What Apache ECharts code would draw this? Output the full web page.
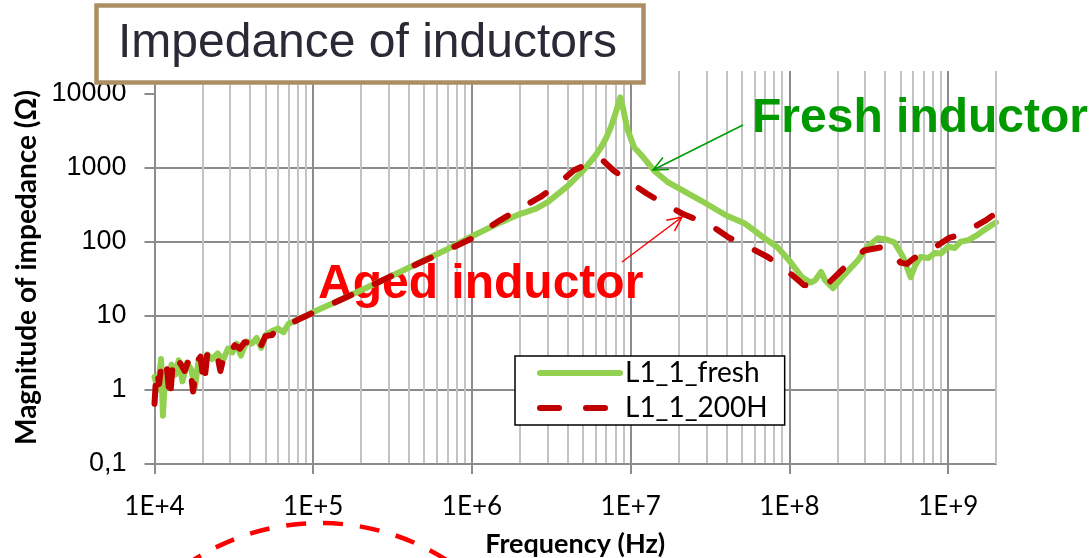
<!DOCTYPE html>
<html><head><meta charset="utf-8">
<script src="https://cdn.jsdelivr.net/npm/echarts@6/dist/echarts.min.js"></script>
<style>html,body{margin:0;padding:0;background:#fff}#c{width:1089px;height:558px}</style>
</head><body><div id="c"></div>
<script>
const freqFresh=[1.0e4,1.05e4,1.1e4,1.13e4,1.17e4,1.22e4,1.28e4,1.35e4,1.42e4,1.5e4,1.6e4,1.7e4,1.8e4,1.9e4,2.0e4,2.15e4,2.3e4,2.5e4,2.7e4,2.9e4,3.1e4,3.3e4,3.5e4,3.8e4,4.1e4,4.4e4,4.7e4,5.0e4,5.5e4,6.0e4,6.5e4,7.0e4,8.0e4,9.0e4,1.0e5,1.5e5,2e5,3e5,5e5,7e5,1e6,1.5e6,2e6,2.5e6,3e6,4e6,5e6,6e6,6.5e6,7e6,7.5e6,8e6,8.3e6,8.6e6,9.0e6,9.5e6,1.05e7,1.2e7,1.4e7,1.7e7,2e7,2.75e7,4e7,5.2e7,7e7,8.4e7,1.0e8,1.2e8,1.36e8,1.45e8,1.58e8,1.68e8,1.88e8,2.2e8,2.7e8,3.1e8,3.6e8,4.0e8,4.57e8,5.2e8,5.8e8,6.2e8,6.7e8,7.5e8,8.2e8,9e8,1.0e9,1.1e9,1.2e9,1.33e9,1.5e9,1.7e9,2.0e9];
const zFresh=[1.5,1.0,2.6,0.45,1.8,1.2,2.2,1.6,2.5,1.3,2.3,1.9,1.1,2.6,2.2,3.0,2.6,3.1,2.5,3.6,3.2,4.2,2.9,4.5,4.2,5.0,3.7,5.5,6.2,6.7,6.0,7.8,8.9,10,11.2,16.5,22,33,56,79,118,180,235,275,340,560,900,1450,1870,2500,3500,5300,6900,8800,5900,3350,1870,1370,910,640,525,361,225,177,110,84,55,33,28,30,39,30,23.5,35,56,85,111,108,98,62,33,48,62,60,70,69,85,82,100,104,120,145,182];
const freqAged=[1.0e4,1.03e4,1.07e4,1.1e4,1.15e4,1.2e4,1.25e4,1.3e4,1.38e4,1.45e4,1.55e4,1.65e4,1.75e4,1.85e4,1.95e4,2.05e4,2.15e4,2.3e4,2.45e4,2.6e4,2.8e4,3.0e4,3.2e4,3.45e4,3.7e4,4.0e4,4.3e4,4.6e4,5.0e4,5.5e4,6.0e4,7.0e4,8.0e4,1.0e5,2e5,5e5,1e6,1.51e6,2e6,2.7e6,3.5e6,4.37e6,5.5e6,6.45e6,7.8e6,1.0e7,1.26e7,1.6e7,2.1e7,3.19e7,4.1e7,5.5e7,7.3e7,1.0e8,1.23e8,1.5e8,1.78e8,2.2e8,2.95e8,3.8e8,4.4e8,5.0e8,5.5e8,6.1e8,7.0e8,8.1e8,1.01e9,1.2e9,1.4e9,1.7e9,1.95e9];
const zAged=[0.65,1.9,1.2,2.0,1.4,1.9,0.72,2.1,1.6,2.3,1.8,2.6,0.95,2.4,2.8,1.15,3.0,2.7,3.4,1.8,3.5,3.2,4.0,3.6,4.4,4.3,5.0,3.6,5.3,5.5,6.8,7.6,8.8,11.0,22,55,110,195,280,400,600,910,1150,1330,910,620,445,330,240,166,115,85,62,38,26,25,28,44,76,84,75,52,50,60,70,82,112,125,150,190,233];
const seriesNames=['L1_1_fresh','L1_1_200H'];
const xTickValues=[1e4,1e5,1e6,1e7,1e8,1e9];
const yTickValues=[0.1,1,10,100,1000,10000];
const xRange=[1e4,2e9];
const yRange=[0.1,20000];

const MAJOR='#8c8c8c', MINOR='#c3c3c3';
const chart=echarts.init(document.getElementById('c'));

function arrow(x1,y1,x2,y2,color){
  const dx=x1-x2, dy=y1-y2, L=Math.hypot(dx,dy), ux=dx/L, uy=dy/L;
  const a=25*Math.PI/180, h=16, c=Math.cos(a), s=Math.sin(a);
  const p1=[x2+h*(ux*c-uy*s), y2+h*(ux*s+uy*c)];
  const p2=[x2+h*(ux*c+uy*s), y2+h*(-ux*s+uy*c)];
  return [
    {type:'line',z:10,shape:{x1,y1,x2,y2},style:{stroke:color,lineWidth:1.5}},
    {type:'polyline',z:10,shape:{points:[p1,[x2,y2],p2]},style:{stroke:color,lineWidth:1.5,fill:null}}
  ];
}

const option={
  animation:false,
  title:{text:'Impedance of inductors',left:96,top:5,padding:[14,27,14,22],borderColor:'#ab8e63',borderWidth:4.5,backgroundColor:'#fff',z:20,
    textStyle:{fontFamily:'Liberation Sans',fontSize:48,fontWeight:'normal',color:'#2a2a36',lineHeight:50}},
  grid:{left:154.5,right:93,top:71,bottom:94,containLabel:false,outerBoundsMode:'none'},
  legend:{left:515,top:356,orient:'vertical',backgroundColor:'#fff',borderColor:'#000',borderWidth:1.5,
    padding:[2,17,2,22],itemGap:5,itemWidth:80,itemHeight:14,selectedMode:false,z:20,
    itemStyle:{opacity:0},
    textStyle:{fontFamily:'Lato',fontSize:28,color:'#000',lineHeight:30},
    data:[{name:seriesNames[0],lineStyle:{width:6,cap:'round'}},{name:seriesNames[1],lineStyle:{width:6,cap:'round',type:[19,27]}}]},
  xAxis:{type:'log',logBase:10,min:xRange[0],max:xRange[1],
    name:'Frequency (Hz)',nameLocation:'middle',nameGap:67,
    nameTextStyle:{fontFamily:'Lato',fontWeight:'bold',fontSize:27,color:'#000'},
    axisLine:{show:true,lineStyle:{color:MAJOR,width:2}},
    axisTick:{show:true,inside:false,length:10,customValues:xTickValues,lineStyle:{color:MAJOR,width:2}},
    axisLabel:{customValues:xTickValues,formatter:v=>'1E+'+Math.round(Math.log10(v)),fontFamily:'Lato',fontSize:26,color:'#000',margin:30},
    splitLine:{show:true,lineStyle:{color:[MAJOR,MAJOR,MAJOR,MAJOR,MAJOR,MAJOR,MINOR],width:2}},
    minorTick:{show:false,splitNumber:9},
    minorSplitLine:{show:true,lineStyle:{color:MINOR,width:2}}},
  yAxis:{type:'log',logBase:10,min:yRange[0],max:yRange[1],
    name:'Magnitude of impedance (Ω)',nameLocation:'middle',nameGap:113,nameRotate:90,
    nameTextStyle:{fontFamily:'Lato',fontWeight:'bold',fontSize:28,color:'#000'},
    axisLine:{show:true,lineStyle:{color:MAJOR,width:2}},
    axisTick:{show:true,inside:false,length:10,customValues:yTickValues,lineStyle:{color:MAJOR,width:2}},
    axisLabel:{customValues:yTickValues,formatter:v=>v<1?'0,1':String(Math.round(v)),fontFamily:'Liberation Sans',fontSize:27,color:'#000',margin:28},
    splitLine:{show:true,showMaxLine:false,lineStyle:{color:MAJOR,width:2}}},
  series:[
    {name:seriesNames[0],type:'line',data:freqFresh.map((f,i)=>[f,zFresh[i]]),symbol:'none',z:3,
      lineStyle:{color:'#92d050',width:6,cap:'round',join:'round'},itemStyle:{color:'#92d050'},
      markLine:{silent:true,symbol:'none',label:{show:false},lineStyle:{color:MINOR,width:2,type:'solid'},data:[{xAxis:xRange[1]}]}},
    {name:seriesNames[1],type:'line',data:freqAged.map((f,i)=>[f,zAged[i]]),symbol:'none',z:4,
      lineStyle:{color:'#c00000',width:6,type:[18,26],cap:'round',join:'round'},itemStyle:{color:'#c00000'}}
  ],
  graphic:[
    {type:'text',x:752,y:119,z:1,style:{text:'Fresh inductor',fill:'#009900',font:'bold 48px "Liberation Sans"',verticalAlign:'middle'}},
    {type:'text',x:318,y:285,z:1,style:{text:'Aged inductor',fill:'#ff0000',font:'bold 48px "Liberation Sans"',verticalAlign:'middle'}},
    ...arrow(743,125,653,170,'#009900'),
    ...arrow(622,262,682,217,'#ff0000'),
    {type:'circle',z:10,shape:{cx:320,cy:758,r:235},style:{stroke:'#ff0000',lineWidth:4.5,lineDash:[20,17],fill:null}}
  ]
};
chart.setOption(option);
</script></body></html>
